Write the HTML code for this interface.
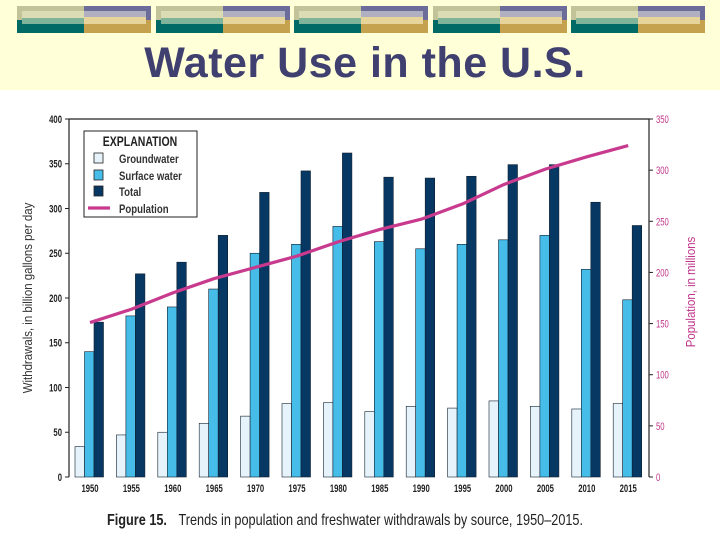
<!DOCTYPE html>
<html><head><meta charset="utf-8"><style>
body{margin:0;width:720px;height:540px;overflow:hidden;background:#fff;font-family:"Liberation Sans",sans-serif}
#banner{position:absolute;left:0;top:0;width:720px;height:90px;background:#ffffd8}
.blk{position:absolute;top:6px;width:134px;height:27px}
.blk div{position:absolute}
#title{position:absolute;left:0;top:39px;width:730px;text-align:center;font-size:43px;font-weight:bold;color:#3f3f70;letter-spacing:0.5px}
svg{position:absolute;left:0;top:0}
</style></head><body>
<div id="banner"></div>
<div id="blocks"></div>
<div id="title">Water Use in the U.S.</div>
<svg id="chart" width="720" height="540"></svg>
<script>
const years=['1950','1955','1960','1965','1970','1975','1980','1985','1990','1995','2000','2005','2010','2015'];
const groundwater=[34,47,50,60,68,82,83,73,79,77,85,79,76,82];
const surfaceWater=[140,180,190,210,250,260,280,263,255,260,265,270,232,198];
const total=[173,227,240,270,318,342,362,335,334,336,349,349,307,281];
const population=[151,164,180,194,205,216,230,242,252,267,286,301,313,324];
const leftTicks=[0,50,100,150,200,250,300,350,400];
const rightTicks=[0,50,100,150,200,250,300,350];

const bl=document.getElementById('blocks');
for(let i=0;i<5;i++){
  const b=document.createElement('div');b.className='blk';b.style.left=(17+i*138.5)+'px';
  
  
  b.innerHTML='<div style="left:0;top:0;width:67px;height:14px;background:#c3c39a"></div><div style="left:67px;top:0;width:67px;height:14px;background:#6c6c9a"></div><div style="left:0;top:14px;width:67px;height:13px;background:#006a66"></div><div style="left:67px;top:14px;width:67px;height:13px;background:#c4a24e"></div><div style="left:5px;top:5px;width:62px;height:13px;background:#dcdcb4"></div><div style="left:67px;top:5px;width:62px;height:6px;background:#b0b0c0"></div><div style="left:5px;top:12px;width:62px;height:6px;background:#80b49a"></div><div style="left:67px;top:11px;width:62px;height:7px;background:#e6d49a"></div>';
  bl.appendChild(b);
}

const svg=document.getElementById('chart');const NS='http://www.w3.org/2000/svg';
function el(t,a,txt){const e=document.createElementNS(NS,t);for(const k in a)e.setAttribute(k,a[k]);if(txt!==undefined)e.textContent=txt;svg.appendChild(e);return e;}
const X0=69,X1=649,Y0=477,Y1=119;
const yL=v=>Y0-(v/400)*(Y0-Y1);
const yR=v=>Y0-(v/350)*(Y0-Y1);
const gx=i=>90+i*41.4;
const bw=9.5;
let a=el('path',{d:`M${X0} ${Y0}V${Y1}H${X1}V${Y0}`,fill:'none',stroke:'#222','stroke-width':1.2});

leftTicks.forEach(v=>{const y=yL(v);
 let t=el('line',{x1:X0-4,x2:X0,y1:y,y2:y,stroke:'#222'});
 let l=el('text',{x:X0-7,y:y+4,'text-anchor':'end','font-size':11,fill:'#222','font-weight':'bold',transform:`translate(${X0-7} 0) scale(0.7 1) translate(${-(X0-7)} 0)`},v);});
rightTicks.forEach(v=>{const y=yR(v);
 let t=el('line',{x1:X1,x2:X1+4,y1:y,y2:y,stroke:'#222'});
 let l=el('text',{x:X1+7,y:y+4,'font-size':11,fill:'#c0358a',transform:`translate(${X1+7} 0) scale(0.7 1) translate(${-(X1+7)} 0)`},v);});
years.forEach((yr,i)=>{
 const c=gx(i);
 const specs=[[groundwater[i],'#e6f3fb','groundwater-bar',c-15],[surfaceWater[i],'#45bde8','surface-water-bar',c-5.5],[total[i],'#073763','total-bar',c+4]];
 specs.forEach(s=>{let r=el('rect',{x:s[3],y:yL(s[0]),width:bw,height:Y0-yL(s[0]),fill:s[1],stroke:'#102030','stroke-width':0.6});});
 let l=el('text',{x:c,y:Y0+15,'text-anchor':'middle','font-size':11,'font-weight':'bold',fill:'#222',transform:`translate(${c} 0) scale(0.7 1) translate(${-c} 0)`},yr);
});
let p=el('polyline',{points:population.map((v,i)=>gx(i)+','+yR(v)).join(' '),fill:'none',stroke:'#c83a8e','stroke-width':3.2,'stroke-linejoin':'round'});

let t1=el('text',{x:0,y:0,'font-size':13,fill:'#333','text-anchor':'middle',transform:'translate(32 298) rotate(-90) scale(0.88 1)'},'Withdrawals, in billion gallons per day');
let t2=el('text',{x:0,y:0,'font-size':13,fill:'#c0358a','text-anchor':'middle',transform:'translate(695 292) rotate(-90) scale(0.88 1)'},'Population, in millions');
let lg=el('rect',{x:84,y:131,width:113,height:86,fill:'#fff',stroke:'#222','stroke-width':1});
let lt=el('text',{x:140,y:146,'text-anchor':'middle','font-size':14,'font-weight':'bold',fill:'#222',transform:'translate(140 0) scale(0.75 1) translate(-140 0)'},'EXPLANATION');
[['Groundwater','#e6f3fb',159],['Surface water','#45bde8',176],['Total','#073763',192]].forEach(e=>{
 let r=el('rect',{x:94,y:e[2]-6,width:9,height:10,fill:e[1],stroke:'#222','stroke-width':0.8});
 let tx=el('text',{x:119,y:e[2]+4,'font-size':12,'font-weight':'bold',fill:'#333',transform:'translate(119 0) scale(0.8 1) translate(-119 0)'},e[0]);
});
let ll=el('line',{x1:88,x2:110,y1:208,y2:208,stroke:'#c83a8e','stroke-width':3.2});
let lp=el('text',{x:119,y:213,'font-size':12,'font-weight':'bold',fill:'#333',transform:'translate(119 0) scale(0.8 1) translate(-119 0)'},'Population');
let cap=el('text',{x:107,y:525,'font-size':15.5,fill:'#222',transform:'translate(107 0) scale(0.82 1) translate(-107 0)'});
cap.innerHTML='<tspan font-weight="bold">Figure 15.</tspan><tspan dx="14">Trends in population and freshwater withdrawals by source, 1950–2015.</tspan>';
</script>
</body></html>
